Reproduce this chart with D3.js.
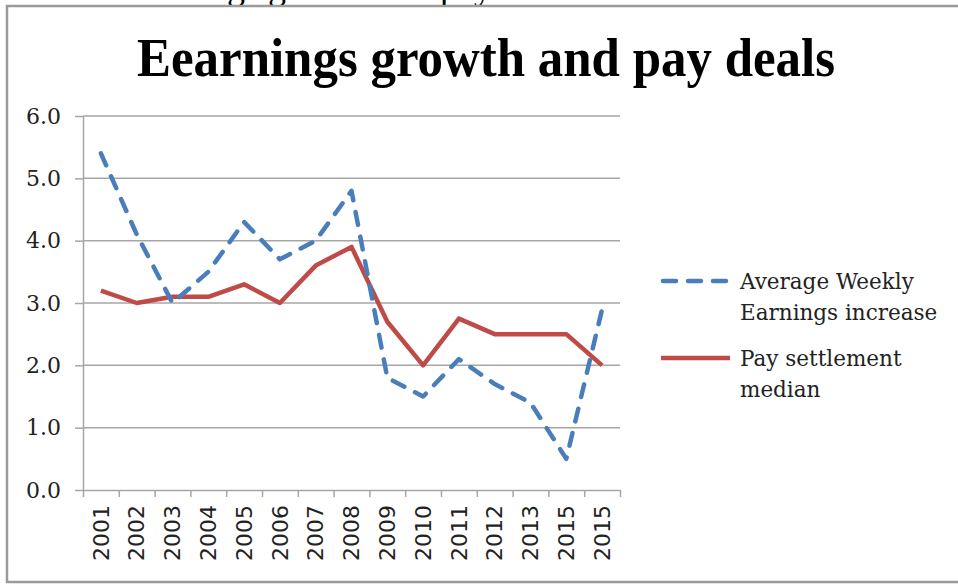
<!DOCTYPE html>
<html>
<head>
<meta charset="utf-8">
<script src="https://cdn.jsdelivr.net/npm/d3@7"></script>
<style>
  body { margin: 0; background: #fff; }
  svg { display: block; }
</style>
</head>
<body>
<div id="chart"></div>
<script>
// chart data
var years = ["2001", "2002", "2003", "2004", "2005", "2006", "2007", "2008",
             "2009", "2010", "2011", "2012", "2013", "2015", "2015"];
var earnings = [5.4, 4.1, 3.0, 3.5, 4.3, 3.7, 4.0, 4.8, 1.8, 1.5, 2.1, 1.7, 1.4, 0.5, 2.9];
var settlements = [3.2, 3.0, 3.1, 3.1, 3.3, 3.0, 3.6, 3.9, 2.7, 2.0, 2.75, 2.5, 2.5, 2.5, 2.0];
var yTicks = [0, 1, 2, 3, 4, 5, 6];
var seriesNames = [["Average Weekly", "Earnings increase"], ["Pay settlement", "median"]];

var W = 958, H = 584;
var margin = {top: 116, right: 338, bottom: 94, left: 83},
    width = W - margin.left - margin.right,
    height = H - margin.top - margin.bottom;

var svg = d3.select("#chart").append("svg")
    .attr("width", W)
    .attr("height", H);

// caption of the page above, cut by the top edge as in the source
svg.append("text")
    .attr("x", 5)
    .attr("y", -1)
    .attr("font-family", "Liberation Serif")
    .attr("font-size", 36)
    .attr("fill", "#000")
    .text("Chart 1: Earnings growth and pay settlements");

// chart frame
svg.append("rect")
    .attr("x", 7)
    .attr("y", 6)
    .attr("width", W + 10)
    .attr("height", 576)
    .attr("fill", "none")
    .attr("stroke", "#9a9a9a")
    .attr("stroke-width", 2.5);

// title
svg.append("text")
    .attr("x", 137)
    .attr("y", 76)
    .attr("font-family", "Liberation Serif")
    .attr("font-weight", "bold")
    .attr("font-size", 54)
    .attr("textLength", 698)
    .attr("lengthAdjust", "spacingAndGlyphs")
    .attr("fill", "#000")
    .text("Eearnings growth and pay deals");

var g = svg.append("g")
    .attr("transform", "translate(" + margin.left + "," + margin.top + ")");

var x = d3.scaleBand().domain(d3.range(years.length)).range([0, width]);
var xEdge = d3.scaleLinear().domain([0, years.length]).range([0, width]);
var y = d3.scaleLinear().domain([0, 6]).range([height, 0]);

// gridlines
g.append("g")
    .selectAll("line")
    .data(yTicks.slice(1))
    .enter().append("line")
    .attr("x1", 0)
    .attr("x2", width)
    .attr("y1", function(d) { return y(d); })
    .attr("y2", function(d) { return y(d); })
    .attr("stroke", "#a6a6a6")
    .attr("stroke-width", 1.5);

// y axis
var yAxis = g.append("g")
    .call(d3.axisLeft(y)
        .tickValues(yTicks)
        .tickFormat(d3.format(".1f"))
        .tickSizeInner(8)
        .tickSizeOuter(0)
        .tickPadding(14));
yAxis.selectAll("line, path").attr("stroke", "#a6a6a6").attr("stroke-width", 1.5);
yAxis.selectAll("text")
    .attr("font-family", "DejaVu Serif")
    .attr("font-size", 22)
    .attr("fill", "#222");

// x axis: tick marks between categories
var xTickAxis = g.append("g")
    .attr("transform", "translate(0," + height + ")")
    .call(d3.axisBottom(xEdge)
        .tickValues(d3.range(years.length + 1))
        .tickFormat("")
        .tickSizeInner(7)
        .tickSizeOuter(0));
xTickAxis.selectAll("line, path").attr("stroke", "#a6a6a6").attr("stroke-width", 1.5);

// x axis: rotated year labels
var xLab = g.append("g")
    .attr("transform", "translate(0," + height + ")")
    .call(d3.axisBottom(x)
        .tickFormat(function(i) { return years[i]; })
        .tickSize(0));
xLab.select(".domain").remove();
xLab.selectAll("text")
    .attr("font-family", "DejaVu Sans")
    .attr("font-size", 22)
    .attr("fill", "#222")
    .attr("transform", "rotate(-90)")
    .attr("text-anchor", "end")
    .attr("x", -15)
    .attr("y", 0)
    .attr("dy", "0.35em");

// lines
var line = d3.line()
    .x(function(d, i) { return x(i) + x.bandwidth() / 2; })
    .y(function(d) { return y(d); });

g.append("path")
    .datum(settlements)
    .attr("d", line)
    .attr("fill", "none")
    .attr("stroke", "#be4b48")
    .attr("stroke-width", 4.5)
    .attr("stroke-linejoin", "round");

g.append("path")
    .datum(earnings)
    .attr("d", line)
    .attr("fill", "none")
    .attr("stroke", "#4a7ebb")
    .attr("stroke-width", 4.5)
    .attr("stroke-linecap", "round")
    .attr("stroke-linejoin", "round")
    .attr("stroke-dasharray", "13,12");

// legend
var legend = svg.append("g");
var legendItems = [
    {y: 281, color: "#4a7ebb", dash: "13,12", cap: "round", lines: seriesNames[0]},
    {y: 358, color: "#be4b48", dash: null, cap: "butt", lines: seriesNames[1]}
];
legendItems.forEach(function(d) {
    legend.append("line")
        .attr("x1", d.cap === "round" ? 663 : 661)
        .attr("x2", d.cap === "round" ? 728 : 730)
        .attr("y1", d.y)
        .attr("y2", d.y)
        .attr("stroke", d.color)
        .attr("stroke-width", 4.5)
        .attr("stroke-linecap", d.cap)
        .attr("stroke-dasharray", d.dash);
    legend.append("text")
        .attr("x", 740)
        .attr("y", d.y + 8)
        .attr("font-family", "DejaVu Serif")
        .attr("font-size", 21.5)
        .attr("fill", "#222")
        .selectAll("tspan")
        .data(d.lines)
        .enter().append("tspan")
        .attr("x", 740)
        .attr("dy", function(t, i) { return i === 0 ? 0 : 31; })
        .text(function(t) { return t; });
});
</script>
</body>
</html>
